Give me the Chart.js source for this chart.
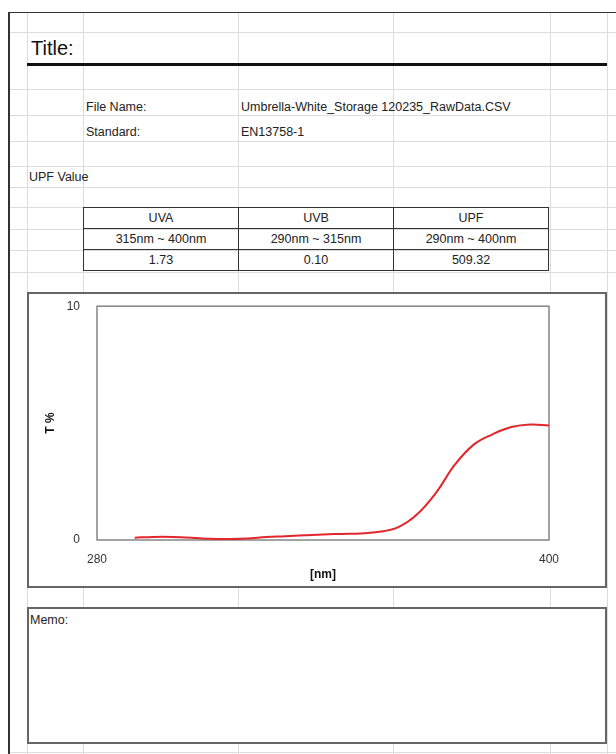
<!DOCTYPE html>
<html>
<head>
<meta charset="utf-8">
<script src="https://cdn.jsdelivr.net/npm/chart.js@4/dist/chart.umd.min.js"></script>
<style>
  html, body { margin: 0; padding: 0; background: #fff; }
  body { width: 616px; height: 754px; position: relative; overflow: hidden;
         font-family: "Liberation Sans", Arial, sans-serif; color: #222; }
  .abs { position: absolute; }
  .gv { position: absolute; width: 1px; background: #dcdcdc; }
  .gh { position: absolute; height: 1px; background: #dcdcdc; }
  .txt { position: absolute; font-size: 12.5px; line-height: 14px; white-space: nowrap; }
  table.upf { position: absolute; left: 83px; top: 207px; border-collapse: collapse; }
  table.upf td { border: 1px solid #333; width: 154px; height: 20px; padding: 0;
                 text-align: center; font-size: 12.5px; color: #222; }
  .box { position: absolute; border: 2px solid #666; background: #fff; box-sizing: border-box; }
</style>
</head>
<body>
<div id="sheet"></div>

<div class="abs" style="left:8px;top:12px;width:608px;height:1px;background:#333"></div>
<div class="abs" style="left:8px;top:12px;width:2px;height:742px;background:#333"></div>

<div class="txt" style="left:31px;top:37px;font-size:20px;line-height:22px;color:#111">Title:</div>
<div class="abs" style="left:27px;top:63px;width:580px;height:3px;background:#111"></div>

<div class="txt" style="left:86px;top:100px">File Name:</div>
<div class="txt" style="left:241px;top:100px">Umbrella-White_Storage 120235_RawData.CSV</div>
<div class="txt" style="left:86px;top:125px">Standard:</div>
<div class="txt" style="left:241px;top:125px">EN13758-1</div>
<div class="txt" style="left:29px;top:170px">UPF Value</div>

<table class="upf">
  <tr><td>UVA</td><td>UVB</td><td>UPF</td></tr>
  <tr><td>315nm ~ 400nm</td><td>290nm ~ 315nm</td><td>290nm ~ 400nm</td></tr>
  <tr><td>1.73</td><td>0.10</td><td>509.32</td></tr>
</table>

<div class="box" style="left:27px;top:292px;width:580px;height:296px"></div>
<canvas id="chart" class="abs" width="576" height="304" style="left:29px;top:282px;width:576px;height:304px"></canvas>

<div class="box" style="left:27px;top:607px;width:580px;height:137px"></div>
<div class="txt" style="left:30px;top:613px">Memo:</div>

<script>
// Transmittance spectrum, 290–400 nm
const wavelengths = [290, 295, 300, 305, 310, 315, 320, 325, 330, 335, 340, 345,
                     350, 355, 360, 365, 370, 375, 380, 385, 390, 395, 400];
const transmittance = [0.10, 0.13, 0.13, 0.10, 0.05, 0.04, 0.06, 0.13, 0.16, 0.20, 0.24, 0.26,
                       0.28, 0.35, 0.55, 1.10, 2.02, 3.22, 4.08, 4.52, 4.83, 4.94, 4.90];
const xTickValues = [280, 400];
const yTickValues = [0, 10];

// Worksheet grid behind the report
const sheetCols = [27, 83, 238, 393, 550, 607];
const sheetRows = [32, 89, 115, 141, 166, 187, 207, 229, 250, 272, 752];
const sheet = document.getElementById('sheet');
sheetCols.forEach(x => {
  const d = document.createElement('div');
  d.className = 'gv';
  d.style.left = x + 'px'; d.style.top = '13px'; d.style.height = '741px';
  sheet.appendChild(d);
});
sheetRows.forEach(y => {
  const d = document.createElement('div');
  d.className = 'gh';
  d.style.left = '10px'; d.style.top = y + 'px'; d.style.width = '606px';
  sheet.appendChild(d);
});

const plotFrame = {
  id: 'plotFrame',
  beforeDatasetsDraw(chart) {
    const { ctx, chartArea: a } = chart;
    ctx.save();
    ctx.strokeStyle = '#858585';
    ctx.lineWidth = 1.5;
    ctx.strokeRect(a.left, a.top, a.right - a.left, a.bottom - a.top);
    ctx.restore();
  }
};

const tickFont = { family: '"Liberation Sans", Arial, sans-serif', size: 12 };
const titleFont = { family: '"Liberation Sans", Arial, sans-serif', size: 12, weight: 'bold' };

new Chart(document.getElementById('chart'), {
  type: 'line',
  data: {
    datasets: [{
      data: wavelengths.map((w, i) => ({ x: w, y: transmittance[i] })),
      borderColor: '#e3262b',
      borderWidth: 2,
      pointRadius: 0,
      fill: false,
      tension: 0.4
    }]
  },
  options: {
    responsive: false,
    animation: false,
    devicePixelRatio: 1,
    layout: { autoPadding: false, padding: { top: 0, right: 56, left: 0, bottom: 0 } },
    plugins: { legend: { display: false }, tooltip: { enabled: false } },
    scales: {
      x: {
        type: 'linear', min: 280, max: 400,
        afterBuildTicks: s => { s.ticks = xTickValues.map(v => ({ value: v })); },
        afterFit: s => { s.height = 46; },
        grid: { display: false, drawTicks: false },
        border: { display: false },
        ticks: { font: tickFont, color: '#333', padding: 12, maxRotation: 0, autoSkip: false },
        title: { display: true, text: '[nm]', font: titleFont, color: '#111', padding: { top: 0, bottom: 4 } }
      },
      y: {
        min: 0, max: 10,
        afterBuildTicks: s => { s.ticks = yTickValues.map(v => ({ value: v })); },
        afterFit: s => { s.width = 68; },
        grid: { display: false, drawTicks: false },
        border: { display: false },
        ticks: { font: tickFont, color: '#333', padding: 17 },
        title: { display: true, text: 'T %', font: titleFont, color: '#111', padding: { top: 14, bottom: 0 } }
      }
    }
  },
  plugins: [plotFrame]
});
</script>
</body>
</html>
